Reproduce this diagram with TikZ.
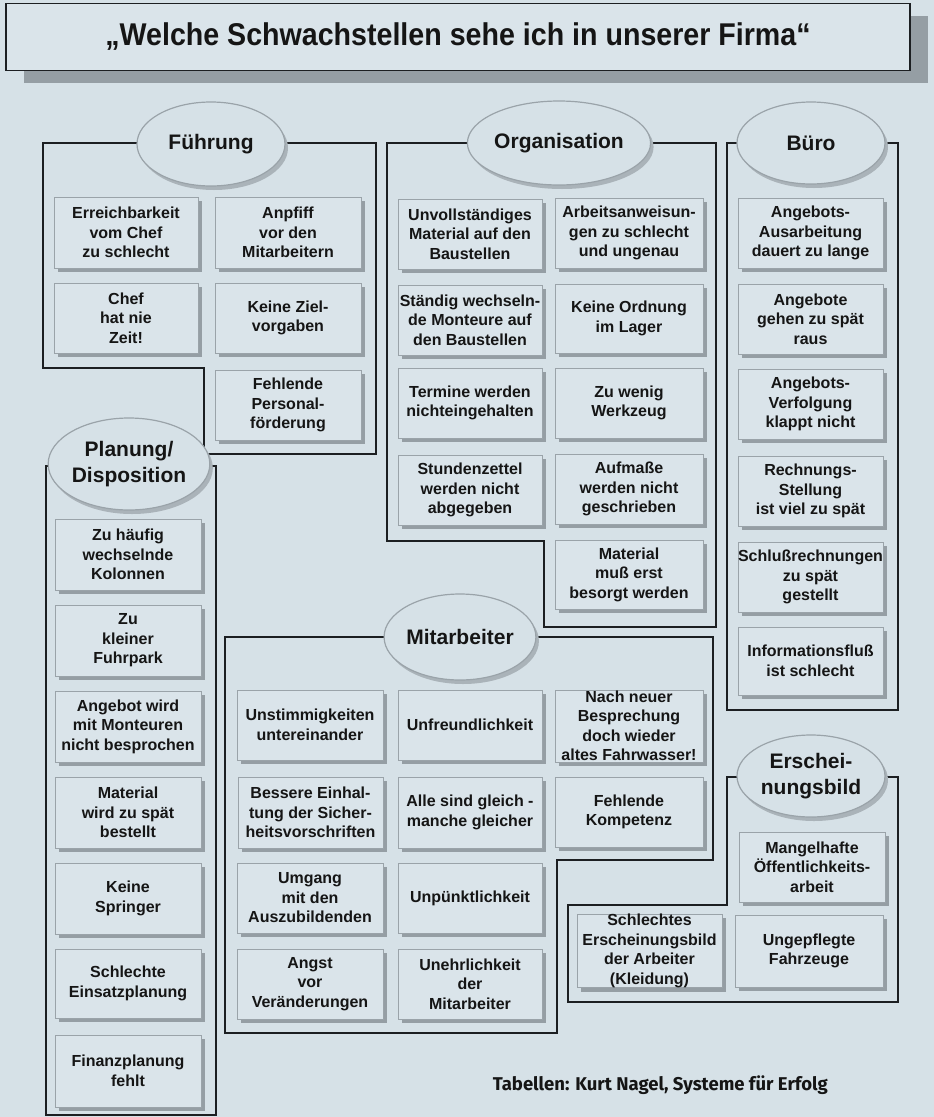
\documentclass[tikz,border=0pt]{standalone}
\usepackage{fontspec}
\setmainfont{Liberation Sans}
\newfontfamily\footfont{Fira Sans}
\usetikzlibrary{shapes.geometric,shadows}
\definecolor{bg}{HTML}{D6E1E7}
\definecolor{boxfill}{HTML}{DAE4EA}
\definecolor{boxborder}{HTML}{9AA3A9}
\definecolor{shadowc}{HTML}{959EA4}
\definecolor{ellshadow}{HTML}{AAB3B9}
\definecolor{framec}{HTML}{1C1F22}
\definecolor{txt}{HTML}{151515}
\newcommand\mycell[6]{\node[cell, minimum width={#4-#2}, minimum height={#5-#3}] (#1) at ({(#2+#4)/2},{(#3+#5)/2}) {#6};}
\tikzset{
  cell/.style={draw=boxborder, line width=0.8, fill=boxfill, inner sep=0pt, align=center, text=txt,
    font=\fontsize{16}{19.5}\selectfont\bfseries,
    drop shadow={shadow xshift=4pt, shadow yshift=-4pt, fill=shadowc, opacity=1}},
  groupell/.style={ellipse, draw=boxborder, line width=1.2, fill=bg, inner sep=0pt, align=center, text=txt,
    font=\fontsize{21}{26}\selectfont\bfseries,
    drop shadow={shadow xshift=3pt, shadow yshift=-4pt, fill=ellshadow, opacity=1}},
  frameline/.style={draw=framec, line width=2},
  titlebox/.style={draw=framec, line width=1.6, fill=boxfill, inner sep=0pt, text=txt,
    font=\fontsize{28.6}{32}\selectfont\bfseries,
    drop shadow={shadow xshift=18pt, shadow yshift=-12pt, fill=shadowc, opacity=1}}
}
\newcommand\tight{\fontsize{16}{17.5}\selectfont}
\begin{document}
\begin{tikzpicture}[x=1pt,y=-1pt]
\fill[bg] (0,0) rectangle (934,1117);
\useasboundingbox (0,0) rectangle (934,1117);

% title
\node[titlebox, minimum width=904, minimum height=67] (title) at (458,37) {\scalebox{1}[1.1]{„Welche Schwachstellen sehe ich in unserer Firma“}};

% frames
\draw[frameline] (43,143) -- (376,143) -- (376,454) -- (204,454) -- (204,368) -- (43,368) -- cycle;
\draw[frameline] (387,143) -- (716,143) -- (716,627) -- (544,627) -- (544,541) -- (387,541) -- cycle;
\draw[frameline] (727,143) -- (898,143) -- (898,710) -- (727,710) -- cycle;
\draw[frameline] (46,466) -- (216,466) -- (216,1115) -- (46,1115) -- cycle;
\draw[frameline] (225,637) -- (713,637) -- (713,860) -- (557,860) -- (557,1033) -- (225,1033) -- cycle;
\draw[frameline] (727,777) -- (898,777) -- (898,1002) -- (568,1002) -- (568,905) -- (727,905) -- cycle;

% group ellipses
\node[groupell, minimum width=148, minimum height=84] (fuehrung) at (211,144) {Führung};
\node[groupell, minimum width=148, minimum height=84] (orga) at (559,143) {Organisation};
\node[groupell, minimum width=148, minimum height=82] (buero) at (811,143) {Büro};
\node[groupell, minimum width=152, minimum height=92] (planung) at (129,464) {Planung/\\Disposition};
\node[groupell, minimum width=146, minimum height=86] (mitarb) at (460,637) {Mitarbeiter};
\node[groupell, minimum width=148, minimum height=82] (erschein) at (811,776) {Erschei-\\nungsbild};

% Fuehrung
\mycell{e1}{54}{197}{198}{268}{Erreichbarkeit\\vom Chef\\zu schlecht}
\mycell{e2}{215}{197}{361}{268}{Anpfiff\\vor den\\Mitarbeitern}
\mycell{e3}{54}{283}{198}{353}{Chef\\hat nie\\Zeit!}
\mycell{e4}{215}{283}{361}{353}{Keine Ziel-\\vorgaben}
\mycell{e5}{215}{370}{361}{440}{Fehlende\\Personal-\\förderung}

% Organisation
\mycell{o1}{398}{199}{542}{269}{Unvollständiges\\Material auf den\\Baustellen}
\mycell{o2}{555}{198}{703}{268}{Arbeitsanweisun-\\gen zu schlecht\\und ungenau}
\mycell{o3}{398}{285}{542}{355}{Ständig wechseln-\\de Monteure auf\\den Baustellen}
\mycell{o4}{555}{284}{703}{353}{Keine Ordnung\\im Lager}
\mycell{o5}{398}{368}{542}{438}{Termine werden\\nichteingehalten}
\mycell{o6}{555}{368}{703}{438}{Zu wenig\\Werkzeug}
\mycell{o7}{398}{455}{542}{525}{Stundenzettel\\werden nicht\\abgegeben}
\mycell{o8}{555}{454}{703}{524}{Aufmaße\\werden nicht\\geschrieben}
\mycell{o9}{555}{540}{703}{609}{Material\\muß erst\\besorgt werden}

% Buero
\mycell{b1}{738}{198}{883}{268}{Angebots-\\Ausarbeitung\\dauert zu lange}
\mycell{b2}{738}{284}{883}{354}{Angebote\\gehen zu spät\\raus}
\mycell{b3}{738}{369}{883}{439}{Angebots-\\Verfolgung\\klappt nicht}
\mycell{b4}{738}{456}{883}{526}{Rechnungs-\\Stellung\\ist viel zu spät}
\mycell{b5}{738}{542}{883}{612}{Schlußrechnungen\\zu spät\\gestellt}
\mycell{b6}{738}{627}{883}{695}{Informationsfluß\\ist schlecht}

% Planung / Disposition
\mycell{p1}{55}{519}{201}{590}{Zu häufig\\wechselnde\\Kolonnen}
\mycell{p2}{55}{605}{201}{676}{Zu\\kleiner\\Fuhrpark}
\mycell{p3}{55}{691}{201}{762}{Angebot wird\\mit Monteuren\\nicht besprochen}
\mycell{p4}{55}{777}{201}{848}{Material\\wird zu spät\\bestellt}
\mycell{p5}{55}{863}{201}{934}{Keine\\Springer}
\mycell{p6}{55}{949}{201}{1018}{Schlechte\\Einsatzplanung}
\mycell{p7}{55}{1035}{201}{1107}{Finanzplanung\\fehlt}

% Mitarbeiter
\mycell{m1}{237}{690}{383}{760}{Unstimmigkeiten\\untereinander}
\mycell{m2}{398}{690}{542}{760}{Unfreundlichkeit}
\mycell{m3}{555}{690}{703}{762}{\tight Nach neuer\\Besprechung\\doch wieder\\altes Fahrwasser!}
\mycell{m4}{238}{777}{383}{848}{Bessere Einhal-\\tung der Sicher-\\heitsvorschriften}
\mycell{m5}{398}{777}{542}{848}{Alle sind gleich -\\manche gleicher}
\mycell{m6}{555}{777}{703}{847}{Fehlende\\Kompetenz}
\mycell{m7}{237}{863}{383}{933}{Umgang\\mit den\\Auszubildenden}
\mycell{m8}{398}{863}{542}{933}{Unpünktlichkeit}
\mycell{m9}{237}{949}{383}{1019}{Angst\\vor\\Veränderungen}
\mycell{m10}{398}{949}{542}{1019}{Unehrlichkeit\\der\\Mitarbeiter}

% Erscheinungsbild
\mycell{s1}{739}{832}{885}{902}{Mangelhafte\\Öffentlichkeits-\\arbeit}
\mycell{s2}{577}{915}{722}{987}{\tight Schlechtes\\Erscheinungsbild\\der Arbeiter\\(Kleidung)}
\mycell{s3}{735}{915}{883}{987}{Ungepflegte\\Fahrzeuge}

% source
\node[anchor=east, inner sep=0pt, text=txt, font=\footfont\bfseries\fontsize{18.5}{22}\selectfont] (src) at (828,1085) {Tabellen: Kurt Nagel, Systeme für Erfolg};
\end{tikzpicture}
\end{document}
